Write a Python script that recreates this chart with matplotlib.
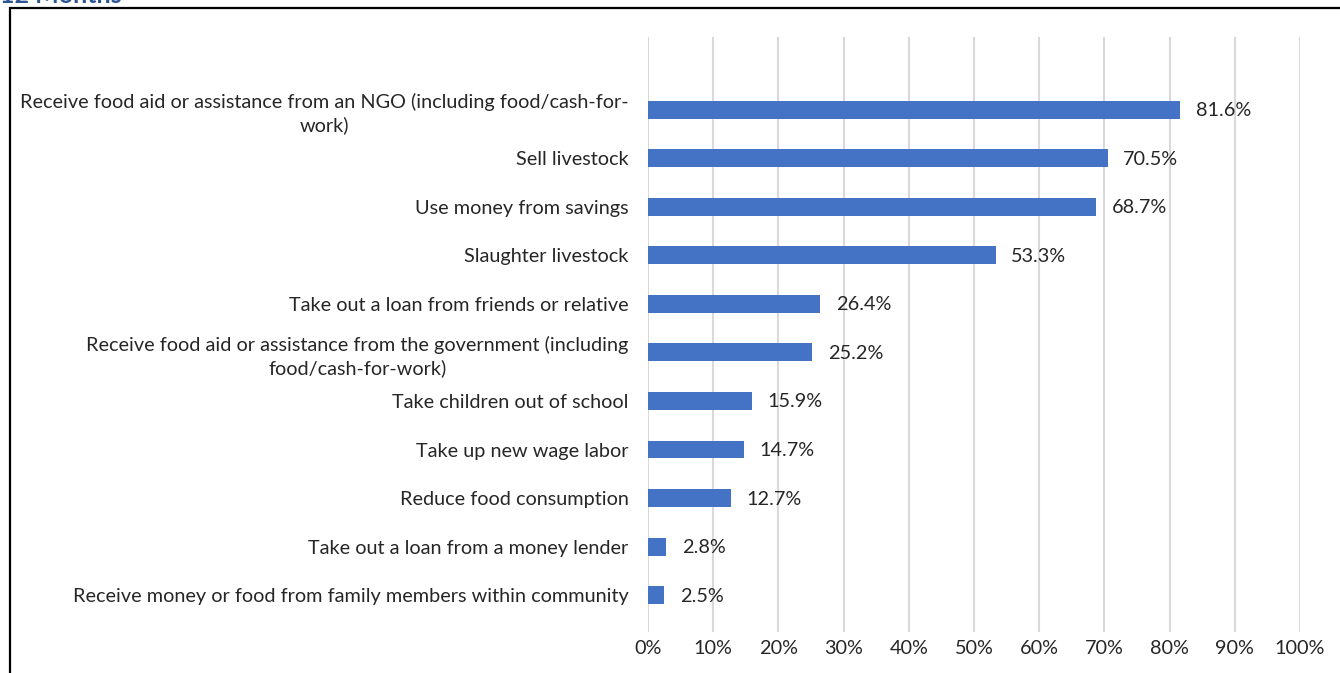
import matplotlib.pyplot as plt
from matplotlib.patches import Rectangle
import numpy as np

plt.rcParams['font.family'] = ['Lato', 'DejaVu Sans']

categories = [
    "Receive food aid or assistance from an NGO (including food/cash-for-\nwork)",
    "Sell livestock",
    "Use money from savings",
    "Slaughter livestock",
    "Take out a loan from friends or relative",
    "Receive food aid or assistance from the government (including\nfood/cash-for-work)",
    "Take children out of school",
    "Take up new wage labor",
    "Reduce food consumption",
    "Take out a loan from a money lender",
    "Receive money or food from family members within community",
]
values = [81.6, 70.5, 68.7, 53.3, 26.4, 25.2, 15.9, 14.7, 12.7, 2.8, 2.5]
xticks = [0, 10, 20, 30, 40, 50, 60, 70, 80, 90, 100]

fs = 14.3
fig = plt.figure(figsize=(13.4, 6.73), dpi=100)
ax = fig.add_axes([648 / 1340, 1 - 632 / 673, 652 / 1340, 595 / 673])

ind = np.arange(len(categories))
ax.barh(ind, values, height=0.37, color="#4472C4", zorder=3)

for i, v in enumerate(values):
    ax.text(v + 2.4, i + 0.02, "%.1f%%" % v, va="center", ha="left", fontsize=fs, color="#262626")

ax.set_xlim(0, 100)
ax.set_ylim(10.76, -1.5)
ax.set_xticks(xticks)
ax.set_xticklabels(["%d%%" % t for t in xticks], fontsize=fs, color="#262626")
ax.set_yticks(ind)
ax.set_yticklabels(categories, fontsize=fs, color="#262626", multialignment="center",
                   linespacing=1.35)
ax.tick_params(axis="both", length=0)
ax.tick_params(axis="y", pad=14)
ax.tick_params(axis="x", pad=6)
ax.xaxis.grid(True, color="#D9D9D9", linewidth=1.5, zorder=0)
for s in ax.spines.values():
    s.set_visible(False)

# outer frame (only top and left visible in the crop)
fig.patches.append(Rectangle((10 / 1340, -0.1), 1.2, 1 - 8 / 673 + 0.1, transform=fig.transFigure,
                             fill=False, edgecolor="black", linewidth=1.6))

# cut-off heading above the frame
fig.text(0.0, 1 - 3 / 673, "12 Months", fontsize=18, fontweight="bold", color="#2F5496",
         ha="left", va="baseline")

fig.savefig("out.png", dpi=100)
